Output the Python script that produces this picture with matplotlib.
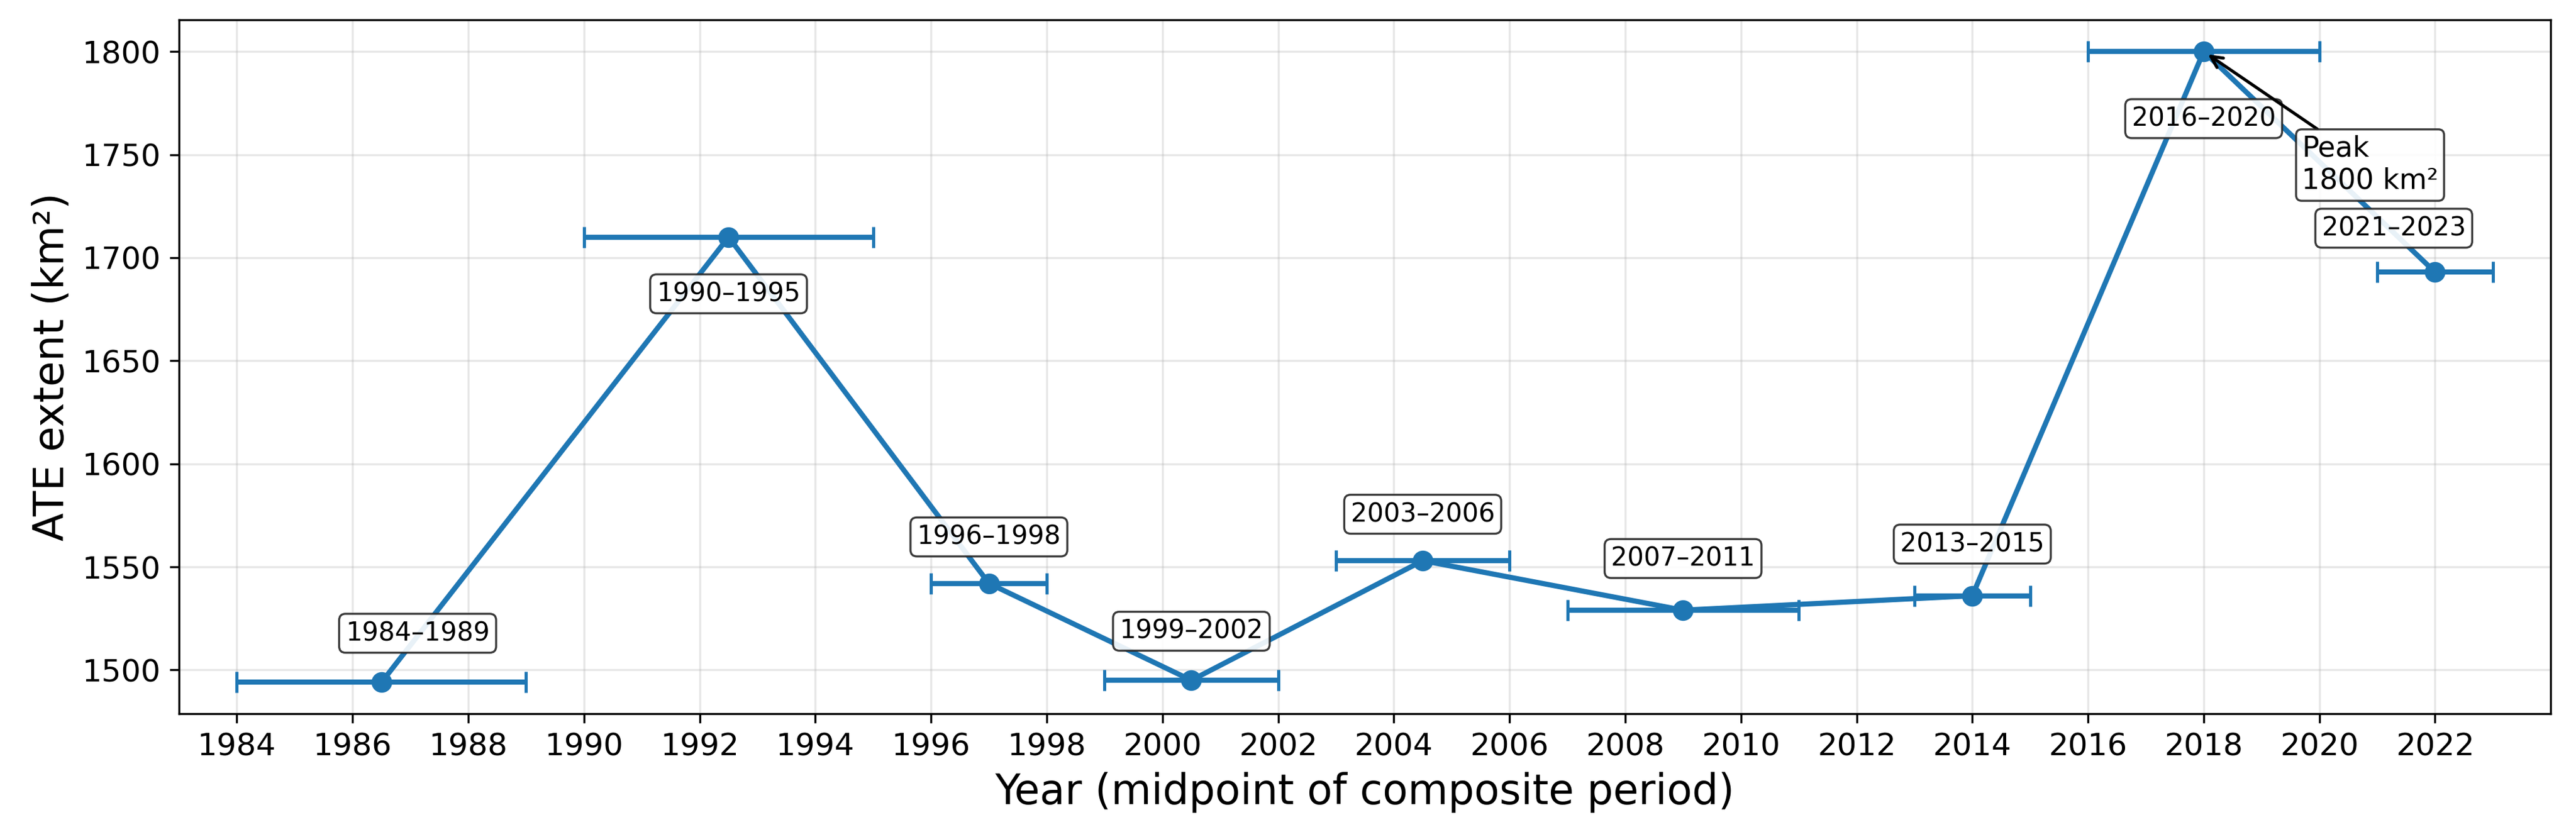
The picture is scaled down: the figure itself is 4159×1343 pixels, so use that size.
import matplotlib
matplotlib.use("Agg")
import matplotlib.pyplot as plt

periods = ["1984–1989", "1990–1995", "1996–1998", "1999–2002", "2003–2006",
           "2007–2011", "2013–2015", "2016–2020", "2021–2023"]
start_year = [1984, 1990, 1996, 1999, 2003, 2007, 2013, 2016, 2021]
end_year = [1989, 1995, 1998, 2002, 2006, 2011, 2015, 2020, 2023]
extent = [1494, 1710, 1542, 1495, 1553, 1529, 1536, 1800, 1693]
xticks = list(range(1984, 2023, 2))

mid = [(s + e) / 2 for s, e in zip(start_year, end_year)]
xerr_lo = [m - s for m, s in zip(mid, start_year)]
xerr_hi = [e - m for m, e in zip(mid, end_year)]

# label offsets (points)
label_offsets = [(14, 19), (0, -22), (0, 18), (0, 19), (0, 18),
                 (0, 20), (0, 20), (0, -26), (-16, 17)]

fig = plt.figure(figsize=(4159 / 300, 1343 / 300), dpi=300)
ax = fig.add_axes([0.0695, 0.142, 0.9207, 0.834])

color = "#1f77b4"
ax.errorbar(mid, extent, xerr=[xerr_lo, xerr_hi], fmt="o-", color=color,
            lw=2, ms=7, elinewidth=2, capsize=4, capthick=1.2, zorder=2)

bbox = dict(boxstyle="round,pad=0.25", fc="white", ec="0.15", lw=0.8, alpha=0.9)
for x, y, lab, off in zip(mid, extent, periods, label_offsets):
    ax.annotate(lab, (x, y), xytext=off, textcoords="offset points",
                ha="center", va="center", fontsize=10, bbox=bbox, zorder=3)

bbox_peak = dict(boxstyle="round,pad=0.2", fc="white", ec="0.15", lw=0.8, alpha=0.9)
imax = extent.index(max(extent))
ax.annotate(f"Peak\n{extent[imax]} km²", (mid[imax], extent[imax]),
            xytext=(38, -44), textcoords="offset points",
            ha="left", va="center", fontsize=11, bbox=bbox_peak, zorder=4,
            arrowprops=dict(arrowstyle="->", color="black", lw=1.2,
                            shrinkA=0, shrinkB=2))

ax.set_xlim(1983, 2024)
ax.set_xticks(xticks)
ax.tick_params(labelsize=12)
ax.grid(True, alpha=0.3)
ax.set_xlabel("Year (midpoint of composite period)", fontsize=16)
ax.set_ylabel("ATE extent (km²)", fontsize=16)

fig.savefig("out.png", dpi=300)
